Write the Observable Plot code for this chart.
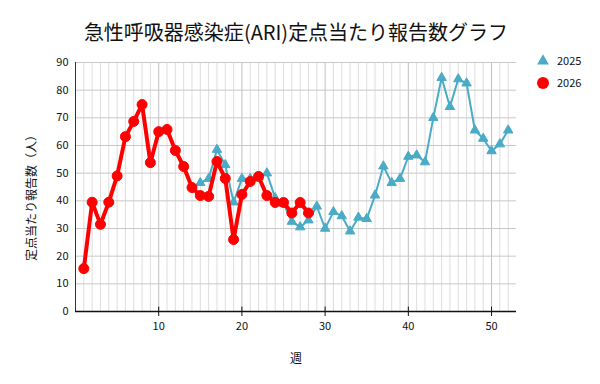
<!DOCTYPE html>
<html><head><meta charset="utf-8">
<script src="https://cdn.jsdelivr.net/npm/d3@7"></script>
<script src="https://cdn.jsdelivr.net/npm/@observablehq/plot@0.6"></script>
<style>
body{margin:0;background:#fff;font-family:"Noto Sans CJK JP","Noto Sans",sans-serif;}
#wrap{position:relative;width:600px;height:384px;overflow:hidden;}
.abs{position:absolute;white-space:nowrap;color:#111;}
</style></head>
<body><div id="wrap"></div>
<script>
const title = "急性呼吸器感染症（ARI）定点当たり報告数グラフ";
const xLabel = "週";
const yLabel = "定点当たり報告数（人）";
const seriesNames = ["2025", "2026"];
const weeks2025 = d3.range(15, 53);
const values2025 = [46.5, 48, 58.5, 53, 39.5, 48, 48, 48.5, 50, 41, 39, 32.5, 30.5, 33, 38, 30, 36, 34.5, 29, 34, 33.5, 42, 52.5, 46.5, 48, 56, 56.5, 54, 70, 84.5, 74, 84, 82.5, 65.5, 62.5, 58, 60.5, 65.5];
const weeks2026 = d3.range(1, 29);
const values2026 = [15.5, 39.5, 31.5, 39.5, 49, 63.2, 68.7, 74.8, 53.8, 65, 65.8, 58.2, 52.4, 44.8, 41.9, 41.6, 54.2, 48.1, 26, 42.3, 47, 48.8, 41.9, 39.4, 39.4, 35.6, 39.4, 35.6];
const xTicks = [10, 20, 30, 40, 50];
const yTicks = [0, 10, 20, 30, 40, 50, 60, 70, 80, 90];

const c2025 = "#4aabc6", c2026 = "#ff0000";
const d2025 = weeks2025.map((w, i) => ({week: w, value: values2025[i]}));
const d2026 = weeks2026.map((w, i) => ({week: w, value: values2026[i]}));
const minorWeeks = d3.range(1, 53).filter(w => w % 10 !== 0);

const plot = Plot.plot({
  width: 600, height: 384,
  marginTop: 62, marginLeft: 75, marginRight: 84, marginBottom: 73,
  style: {fontFamily: "'Noto Sans CJK JP','Noto Sans',sans-serif", fontSize: "11px", color: "#111", background: "transparent"},
  x: {domain: [0, 53]},
  y: {domain: [0, 90]},
  marks: [
    Plot.ruleX(minorWeeks, {y1: 0, y2: 90, stroke: "#dedede", strokeWidth: 1}),
    Plot.ruleX(xTicks, {y1: 0, y2: 90, stroke: "#c0c0c0", strokeWidth: 1}),
    Plot.ruleY(yTicks.filter(v => v > 0), {x1: 0, x2: 53, stroke: "#c8c8c8", strokeWidth: 1}),
    Plot.axisY({ticks: yTicks, tickSize: 0, tickPadding: 7, label: null, tickFormat: d3.format("d")}),
    Plot.axisX({ticks: xTicks, tickSize: 5, tickPadding: 6, label: null, stroke: "#111"}),
    Plot.ruleX(xTicks, {y1: 0, y2: 1.6, stroke: "#111", strokeWidth: 1}),
    Plot.ruleX([0], {y1: 0, y2: 90, stroke: "#333", strokeWidth: 1}),
    Plot.ruleY([0], {x1: 0, x2: 53, stroke: "#111", strokeWidth: 1.5}),
    Plot.line(d2025, {x: "week", y: "value", stroke: c2025, strokeWidth: 2}),
    Plot.dot(d2025, {x: "week", y: "value", symbol: "triangle", r: 3.5, fill: c2025, stroke: c2025, strokeWidth: 1}),
    Plot.line(d2026, {x: "week", y: "value", stroke: c2026, strokeWidth: 4}),
    Plot.dot(d2026, {x: "week", y: "value", r: 5, fill: c2026, stroke: c2026, strokeWidth: 1})
  ]
});
const wrap = document.getElementById("wrap");
wrap.appendChild(plot);
plot.style.position = "absolute"; plot.style.left = "0"; plot.style.top = "0";

function addText(txt, css) {
  const d = document.createElement("div");
  d.className = "abs"; d.textContent = txt;
  Object.assign(d.style, css);
  wrap.appendChild(d);
  return d;
}
const t = addText(title, {left: "296px", top: "31px", transform: "translate(-50%,-50%)", fontSize: "20px", color: "#111"});
t.innerHTML = "急性呼吸器感染症<span style='letter-spacing:0'>(ARI)</span>定点当たり報告数グラフ";
addText(xLabel, {left: "296px", top: "357px", transform: "translate(-50%,-50%)", fontSize: "12px"});
addText(yLabel, {left: "30px", top: "195px", transform: "translate(-50%,-50%) rotate(-90deg)", fontSize: "12px"});

// legend
const leg = document.createElementNS("http://www.w3.org/2000/svg", "svg");
leg.setAttribute("width", "80"); leg.setAttribute("height", "50");
leg.style.position = "absolute"; leg.style.left = "520px"; leg.style.top = "45px";
const tri = d3.symbol(d3.symbolTriangle, 60)();
const s = d3.select(leg);
s.append("path").attr("d", tri).attr("transform", "translate(23,16)").attr("fill", c2025);
s.append("circle").attr("cx", 23).attr("cy", 38).attr("r", 6).attr("fill", c2026);
s.selectAll("text.l").data(seriesNames).join("text")
  .attr("x", 37).attr("y", (d, i) => 16 + i * 22).attr("dy", "0.35em")
  .attr("font-size", 11).attr("fill", "#111")
  .attr("font-family", "'Noto Sans CJK JP','Noto Sans',sans-serif").text(d => d);
wrap.appendChild(leg);
</script></body></html>
